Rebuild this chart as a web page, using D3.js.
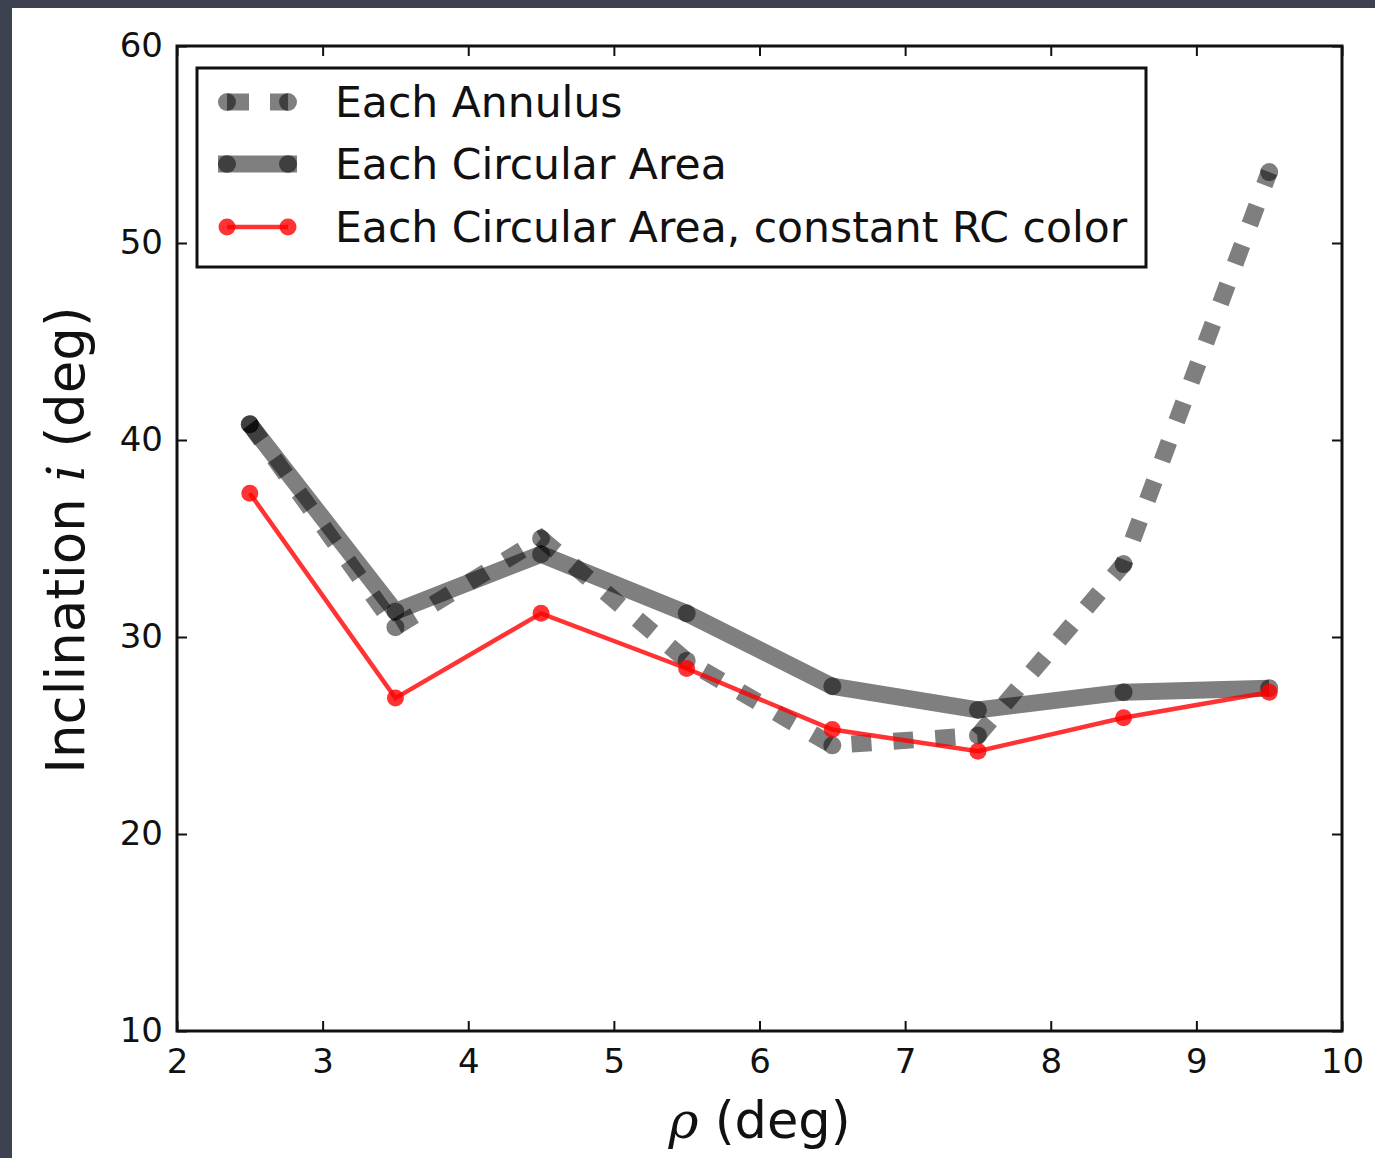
<!DOCTYPE html>
<html>
<head>
<meta charset="utf-8">
<script src="https://cdn.jsdelivr.net/npm/d3@7"></script>
<style>
  html, body { margin: 0; padding: 0; background: #3d4250; }
  svg { display: block; }
  text { font-family: "DejaVu Sans", sans-serif; fill: #111; }
</style>
</head>
<body>
<svg id="chart" width="1375" height="1158"></svg>
<script>
// Radius bins (deg) and fitted inclination for each method
const rho = [2.5, 3.5, 4.5, 5.5, 6.5, 7.5, 8.5, 9.5];
const annulus = [40.8, 30.5, 35.0, 28.8, 24.5, 25.0, 33.7, 53.6];
const circularArea = [40.8, 31.3, 34.2, 31.2, 27.5, 26.3, 27.2, 27.4];
const circularConstRC = [37.3, 26.9, 31.2, 28.4, 25.3, 24.2, 25.9, 27.2];

const xTicks = [2, 3, 4, 5, 6, 7, 8, 9, 10];
const yTicks = [10, 20, 30, 40, 50, 60];
const seriesNames = ["Each Annulus", "Each Circular Area", "Each Circular Area, constant RC color"];

const svg = d3.select("#chart");

// white page sitting inside the dark frame
svg.append("rect").attr("x", 12).attr("y", 8).attr("width", 1375 - 12).attr("height", 1158 - 8).attr("fill", "#fff");

const L = 177, R = 1342, T = 46, B = 1031;
const x = d3.scaleLinear().domain([2, 10]).range([L, R]);
const y = d3.scaleLinear().domain([10, 60]).range([B, T]);

const plot = svg.append("g");
const line = d3.line().x((d, i) => x(rho[i])).y(d => y(d));

// Each Annulus: thick dashed grey
plot.append("path").datum(annulus)
  .attr("d", line).attr("fill", "none")
  .attr("stroke", "#000").attr("stroke-opacity", 0.5)
  .attr("stroke-width", 17).attr("stroke-dasharray", "20,22")
  .attr("stroke-linejoin", "miter");
plot.selectAll(".mA").data(annulus).join("circle")
  .attr("cx", (d, i) => x(rho[i])).attr("cy", d => y(d)).attr("r", 9)
  .attr("fill", "#000").attr("fill-opacity", 0.5);

// Each Circular Area: thick solid grey
plot.append("path").datum(circularArea)
  .attr("d", line).attr("fill", "none")
  .attr("stroke", "#000").attr("stroke-opacity", 0.5)
  .attr("stroke-width", 17).attr("stroke-linejoin", "miter");
plot.selectAll(".mC").data(circularArea).join("circle")
  .attr("cx", (d, i) => x(rho[i])).attr("cy", d => y(d)).attr("r", 9)
  .attr("fill", "#000").attr("fill-opacity", 0.5);

// constant RC colour: thin red
plot.append("path").datum(circularConstRC)
  .attr("d", line).attr("fill", "none")
  .attr("stroke", "#ff0000").attr("stroke-opacity", 0.8)
  .attr("stroke-width", 4.5);
plot.selectAll(".mR").data(circularConstRC).join("circle")
  .attr("cx", (d, i) => x(rho[i])).attr("cy", d => y(d)).attr("r", 8.5)
  .attr("fill", "#ff0000").attr("fill-opacity", 0.8);

// axes: inward ticks on all four sides
const tickLen = 10;
const axB = svg.append("g").attr("transform", `translate(0,${B})`)
  .call(d3.axisBottom(x).tickValues(xTicks).tickSizeInner(-tickLen).tickSizeOuter(0).tickPadding(18));
const axT = svg.append("g").attr("transform", `translate(0,${T})`)
  .call(d3.axisTop(x).tickValues(xTicks).tickSizeInner(-tickLen).tickSizeOuter(0).tickFormat(""));
const axL = svg.append("g").attr("transform", `translate(${L},0)`)
  .call(d3.axisLeft(y).tickValues(yTicks).tickSizeInner(-tickLen).tickSizeOuter(0).tickPadding(14));
const axR = svg.append("g").attr("transform", `translate(${R},0)`)
  .call(d3.axisRight(y).tickValues(yTicks).tickSizeInner(-tickLen).tickSizeOuter(0).tickFormat(""));
[axB, axT, axL, axR].forEach(a => {
  a.select(".domain").remove();
  a.selectAll(".tick line").attr("stroke", "#111").attr("stroke-width", 2);
  a.selectAll(".tick text").attr("font-family", "DejaVu Sans").attr("font-size", 34).attr("fill", "#111");
});
axB.selectAll(".tick text").attr("dy", "0.71em");

// frame
svg.append("rect").attr("x", L).attr("y", T).attr("width", R - L).attr("height", B - T)
  .attr("fill", "none").attr("stroke", "#111").attr("stroke-width", 3);

// axis titles
svg.append("text").attr("x", (L + R) / 2).attr("y", 1138).attr("text-anchor", "middle")
  .attr("font-size", 51)
  .call(t => {
    t.append("tspan").attr("font-family", "DejaVu Serif").attr("font-style", "italic").text("ρ");
    t.append("tspan").text(" (deg)");
  });
svg.append("text").attr("transform", `translate(84,540) rotate(-90)`)
  .attr("text-anchor", "middle").attr("font-size", 53)
  .call(t => {
    t.append("tspan").text("Inclination ");
    t.append("tspan").attr("font-family", "DejaVu Serif").attr("font-style", "italic").text("i");
    t.append("tspan").text(" (deg)");
  });

// legend
const lg = svg.append("g");
lg.append("rect").attr("x", 197).attr("y", 68).attr("width", 949).attr("height", 199)
  .attr("fill", "#fff").attr("stroke", "#111").attr("stroke-width", 3);
const rows = [102, 164, 227];
const x0 = 227, x1 = 288;
// Each Annulus sample
lg.append("line").attr("x1", x0).attr("x2", x1).attr("y1", rows[0]).attr("y2", rows[0])
  .attr("stroke", "#000").attr("stroke-opacity", 0.5).attr("stroke-width", 17).attr("stroke-dasharray", "22,21");
// Each Circular Area sample
lg.append("line").attr("x1", x0 - 9).attr("x2", x1 + 9).attr("y1", rows[1]).attr("y2", rows[1])
  .attr("stroke", "#000").attr("stroke-opacity", 0.5).attr("stroke-width", 17);
// constant RC sample
lg.append("line").attr("x1", x0).attr("x2", x1).attr("y1", rows[2]).attr("y2", rows[2])
  .attr("stroke", "#ff0000").attr("stroke-opacity", 0.8).attr("stroke-width", 4.5);
[0, 1].forEach(r => [x0, x1].forEach(cx =>
  lg.append("circle").attr("cx", cx).attr("cy", rows[r]).attr("r", 9)
    .attr("fill", "#000").attr("fill-opacity", 0.5)));
[x0, x1].forEach(cx =>
  lg.append("circle").attr("cx", cx).attr("cy", rows[2]).attr("r", 8.5)
    .attr("fill", "#ff0000").attr("fill-opacity", 0.8));
seriesNames.forEach((n, i) =>
  lg.append("text").attr("x", 335).attr("y", rows[i]).attr("dy", "0.36em")
    .attr("font-size", 42.5).text(n));
</script>
</body>
</html>
